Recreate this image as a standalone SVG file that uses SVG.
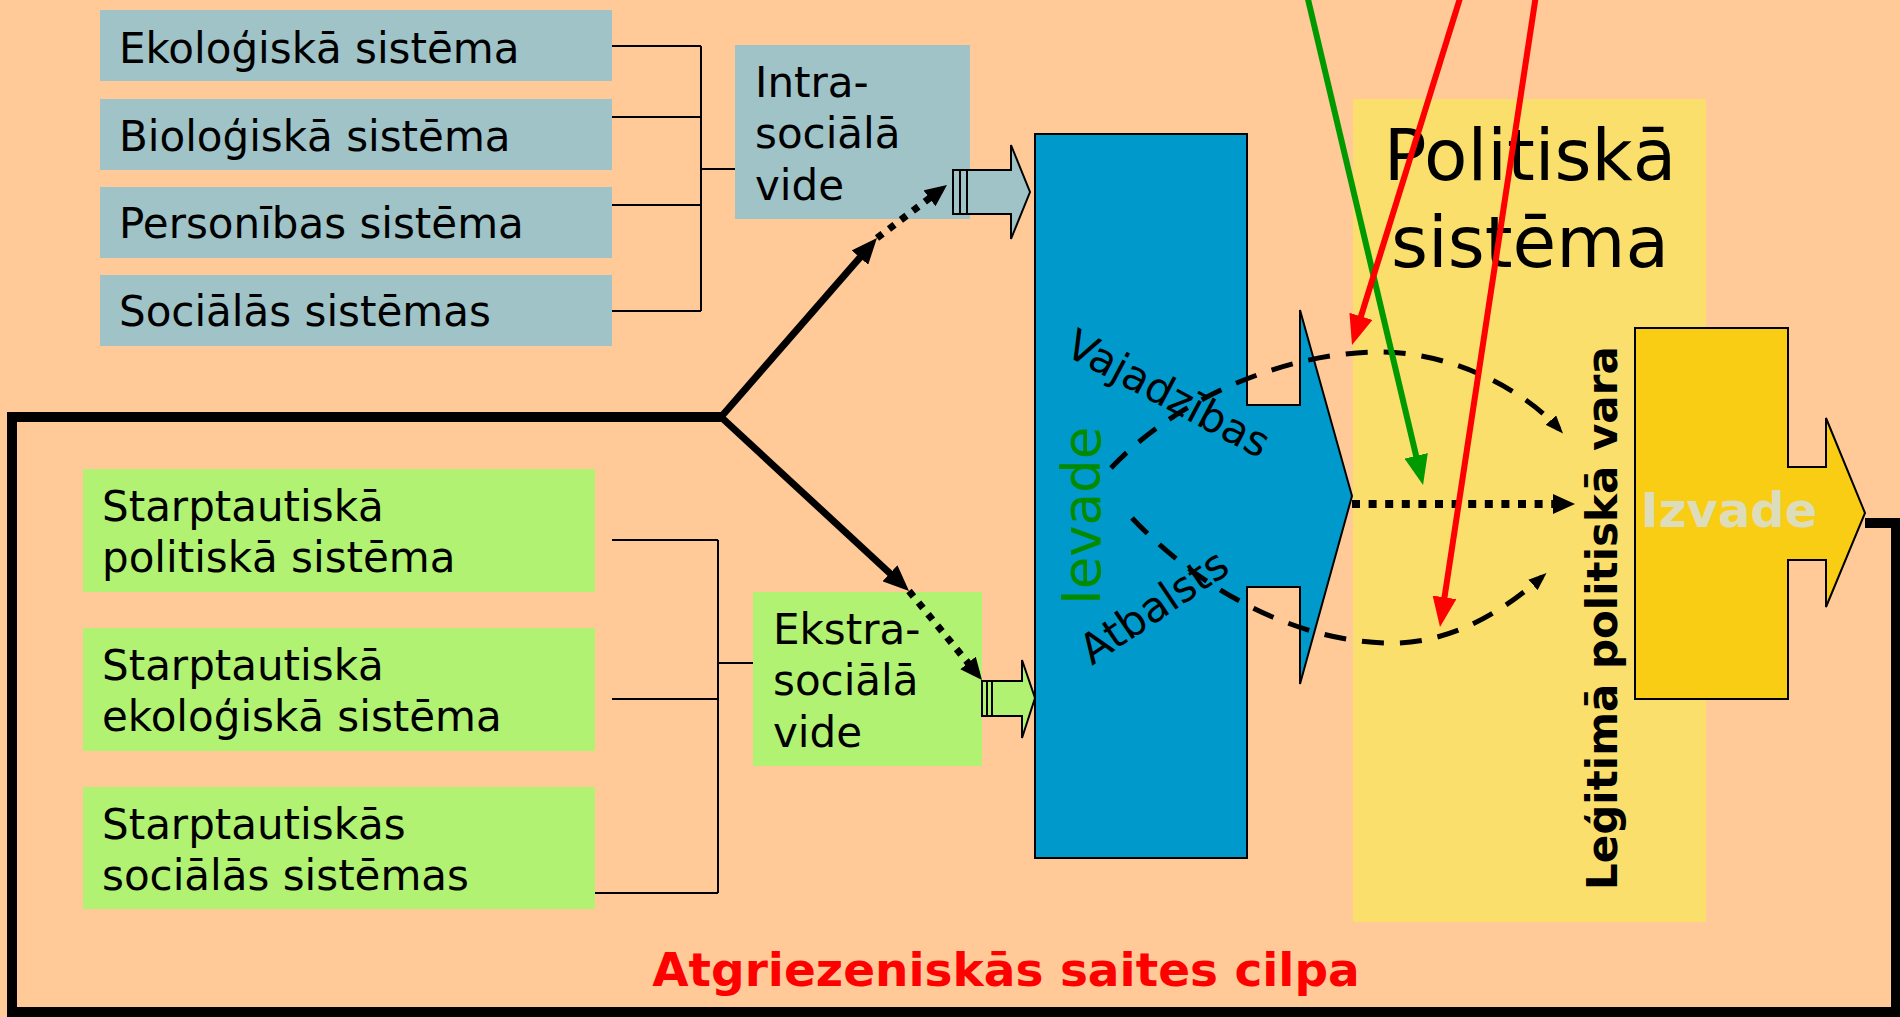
<svg xmlns="http://www.w3.org/2000/svg" width="1900" height="1017" viewBox="0 0 1900 1017">
<defs>
<style>
.t{font-family:"DejaVu Sans","Verdana",sans-serif;font-size:42px;fill:#000}
.teal{fill:#9FC3C7}
.lime{fill:#B1F272}
.br{stroke:#000;stroke-width:2;fill:none}
.thick{stroke:#000;stroke-width:10;fill:none;stroke-linejoin:miter}
.branch{stroke:#000;stroke-width:7;fill:none}
.dots{stroke:#000;stroke-width:7;fill:none;stroke-dasharray:7 8}
.dots2{stroke:#000;stroke-width:8;fill:none;stroke-dasharray:8 8.6}
.dash{stroke:#000;stroke-width:5;fill:none;stroke-dasharray:22 16}
.red{stroke:#FF0000;stroke-width:6;fill:none}
.grn{stroke:#009900;stroke-width:6;fill:none}
</style>
<marker id="ahK" markerUnits="userSpaceOnUse" viewBox="0 0 26 22" markerWidth="26" markerHeight="22" refX="16" refY="11" orient="auto"><path d="M0,0 L26,11 L0,22 z" fill="#000"/></marker>
<marker id="ahKs" markerUnits="userSpaceOnUse" viewBox="0 0 22 20" markerWidth="22" markerHeight="20" refX="14" refY="10" orient="auto"><path d="M0,0 L22,10 L0,20 z" fill="#000"/></marker>
<marker id="ahD" markerUnits="userSpaceOnUse" viewBox="0 0 18 14" markerWidth="18" markerHeight="14" refX="12" refY="7" orient="auto"><path d="M0,0 L18,7 L0,14 z" fill="#000"/></marker>
<marker id="ahR" markerUnits="userSpaceOnUse" viewBox="0 0 30 24" markerWidth="30" markerHeight="24" refX="22" refY="12" orient="auto"><path d="M0,0 L30,12 L0,24 z" fill="#FF0000"/></marker>
<marker id="ahG" markerUnits="userSpaceOnUse" viewBox="0 0 30 24" markerWidth="30" markerHeight="24" refX="22" refY="12" orient="auto"><path d="M0,0 L30,12 L0,24 z" fill="#009900"/></marker>
</defs>
<rect x="0" y="0" width="1900" height="1017" fill="#FFCA97"/>

<g id="politiska-sistema">
<rect x="1353" y="99" width="353" height="823" fill="#FADF6C"/>
<text font-family="DejaVu Sans,Verdana,sans-serif" font-size="71" text-anchor="middle" x="1530" y="180">Politiskā</text>
<text font-family="DejaVu Sans,Verdana,sans-serif" font-size="71" text-anchor="middle" x="1530" y="267">sistēma</text>
<text font-family="DejaVu Sans,Verdana,sans-serif" font-size="42" font-weight="bold" transform="translate(1617,890) rotate(-90)">Leģitimā politiskā vara</text>
</g>

<g id="ekologiska">
<rect class="teal" x="100" y="10" width="512" height="71"/>
<text class="t" x="119" y="63">Ekoloģiskā sistēma</text>
</g>
<g id="biologiska">
<rect class="teal" x="100" y="99" width="512" height="71"/>
<text class="t" x="119" y="151">Bioloģiskā sistēma</text>
</g>
<g id="personibas">
<rect class="teal" x="100" y="187" width="512" height="71"/>
<text class="t" x="119" y="238">Personības sistēma</text>
</g>
<g id="socialas">
<rect class="teal" x="100" y="275" width="512" height="71"/>
<text class="t" x="119" y="326">Sociālās sistēmas</text>
</g>
<g id="intra">
<rect class="teal" x="735" y="45" width="235" height="174"/>
<text class="t" x="755" y="97">Intra-</text>
<text class="t" x="755" y="148">sociālā</text>
<text class="t" x="755" y="200">vide</text>
</g>

<g id="starpt-politiska">
<rect class="lime" x="83" y="469" width="512" height="123"/>
<text class="t" x="102" y="521">Starptautiskā</text>
<text class="t" x="102" y="572">politiskā sistēma</text>
</g>
<g id="starpt-ekologiska">
<rect class="lime" x="83" y="628" width="512" height="123"/>
<text class="t" x="102" y="680">Starptautiskā</text>
<text class="t" x="102" y="731">ekoloģiskā sistēma</text>
</g>
<g id="starpt-socialas">
<rect class="lime" x="83" y="787" width="512" height="122"/>
<text class="t" x="102" y="839">Starptautiskās</text>
<text class="t" x="102" y="890">sociālās sistēmas</text>
</g>
<g id="ekstra">
<rect class="lime" x="753" y="592" width="229" height="174"/>
<text class="t" x="773" y="644">Ekstra-</text>
<text class="t" x="773" y="695">sociālā</text>
<text class="t" x="773" y="747">vide</text>
</g>

<g id="intra-arrow">
<rect x="953" y="170" width="14" height="44" fill="#9FC3C7" stroke="#000" stroke-width="2"/>
<line x1="960" y1="170" x2="960" y2="214" stroke="#000" stroke-width="2"/>
<path d="M967,170 H1011 V145 L1030,192 L1011,239 V214 H967 Z" fill="#9FC3C7" stroke="#000" stroke-width="2"/>
</g>
<g id="ekstra-arrow">
<rect x="982" y="681" width="10" height="35" fill="#B1F272" stroke="#000" stroke-width="2"/>
<line x1="987" y1="681" x2="987" y2="716" stroke="#000" stroke-width="2"/>
<path d="M992,681 H1022 V660 L1035,698 L1022,738 V716 H992 Z" fill="#B1F272" stroke="#000" stroke-width="2"/>
</g>

<g id="ievade">
<path d="M1035,134 H1247 V405 H1300 V310 L1352,496 L1300,684 V587 H1247 V858 H1035 Z" fill="#0099CC" stroke="#000" stroke-width="2"/>
<text font-family="DejaVu Sans,Verdana,sans-serif" font-size="53" fill="#008A00" transform="translate(1100,605) rotate(-90)">Ievade</text>
<text font-family="DejaVu Sans,Verdana,sans-serif" font-size="42" transform="translate(1063,354) rotate(28)">Vajadzības</text>
<text font-family="DejaVu Sans,Verdana,sans-serif" font-size="42" transform="translate(1092,666) rotate(-34)">Atbalsts</text>
</g>

<g id="izvade">
<path d="M1635,328 H1788 V467 H1826 V418 L1865,513 L1826,607 V560 H1788 V699 H1635 Z" fill="#F8CD14" stroke="#000" stroke-width="2"/>
<text font-family="DejaVu Sans,Verdana,sans-serif" font-size="48" font-weight="bold" fill="#DDDDBB" text-anchor="middle" x="1729" y="527">Izvade</text>
</g>

<g id="feedback-label">
<text font-family="DejaVu Sans,Verdana,sans-serif" font-size="47" font-weight="bold" fill="#FF0000" text-anchor="middle" x="1006" y="986">Atgriezeniskās saites cilpa</text>
</g>

<g id="connectors">
<path class="br" d="M612,46 H701 M612,117 H701 M612,205 H701 M612,311 H701 M701,46 V311 M701,169 H735"/>
<path class="br" d="M612,540 H718 M612,699 H718 M595,893 H718 M718,540 V893 M718,663 H753"/>
<path class="thick" d="M1865,523 H1896 V1012 H12 V417 H721"/>
<path class="branch" d="M721,417 L870.4,245.5" marker-end="url(#ahK)"/>
<path class="branch" d="M721,417 L901.7,584.2" marker-end="url(#ahK)"/>
<path class="dots" d="M877,238 L940.6,189.8" marker-end="url(#ahKs)"/>
<path class="dots" d="M909,591 L976.9,673.8" marker-end="url(#ahKs)"/>
<path class="dots2" d="M1352,504 L1567,504" marker-end="url(#ahKs)"/>
<path class="dash" d="M1111,468 C1180,395 1290,352 1380,352 C1450,352 1522,388 1559,429" marker-end="url(#ahD)"/>
<path class="dash" d="M1132,518 C1200,590 1300,645 1397,643 C1460,641 1510,605 1542,577" marker-end="url(#ahD)"/>
<path class="grn" d="M1307,-5 L1421.2,477.2" marker-end="url(#ahG)"/>
<path class="red" d="M1461,-5 L1354.4,337.4" marker-end="url(#ahR)"/>
<path class="red" d="M1536,-5 L1441.2,619.1" marker-end="url(#ahR)"/>
</g>
</svg>
